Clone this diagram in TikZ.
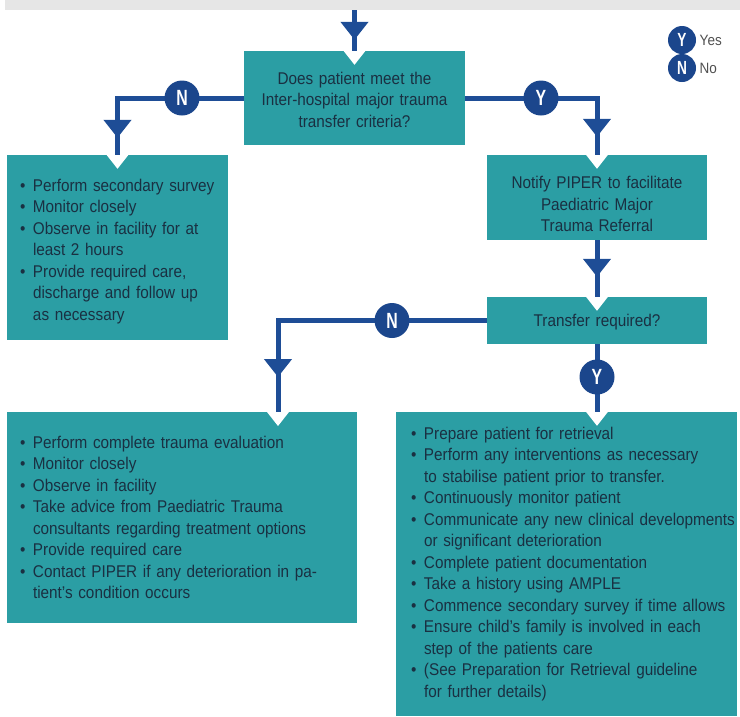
\documentclass[tikz,border=0pt]{standalone}
\usepackage{fontspec}
\setmainfont{Liberation Sans}[FakeStretch=0.9]
\usetikzlibrary{arrows.meta,decorations.markings}
\definecolor{boxteal}{RGB}{43,158,164}
\definecolor{flowblue}{RGB}{30,77,150}
\definecolor{dotblue}{RGB}{27,70,140}
\definecolor{inktext}{RGB}{26,48,66}
\definecolor{keytext}{RGB}{80,80,80}
\definecolor{bandgray}{RGB}{230,230,230}
\newcommand{\itm}[1]{\mbox{\makebox[13pt][l]{\textbullet}#1}}
\newcommand{\ctd}[1]{\mbox{\hspace*{13pt}#1}}

\begin{document}
\begin{tikzpicture}[x=1pt,y=-1pt,
    box/.style={rectangle, fill=boxteal, text=inktext, inner sep=0pt,
                font=\fontsize{17}{21.5}\selectfont},
    flow/.style={color=flowblue, draw, line width=5pt, postaction={decorate},
                 decoration={markings, mark=at position #1 with {\arrow{Triangle[width=27pt,length=18pt]}}}},
    flow/.default=-17pt,
    stem/.style={draw=flowblue, line width=5pt},
    yn/.style={circle, fill=dotblue, minimum size=35pt, inner sep=0pt, text=white,
               font=\fontsize{22}{22}\selectfont\bfseries},
    key/.style={circle, fill=dotblue, minimum size=28pt, inner sep=0pt, text=white,
                font=\fontsize{19}{19}\selectfont\bfseries},
    notch/.pic={\fill[white] (-11,0) -- (11,0) -- (0,14) -- cycle;}]
    \useasboundingbox (0,0) rectangle (740,716);
    \fill[bandgray] (5,0) rectangle (740,10);

    % boxes
    \node[box, minimum width=221pt, minimum height=94pt, text width=221pt, align=center] (q1) at (354.5,98)
        {\rule{0pt}{16pt}Does patient meet the\\Inter-hospital major trauma\\transfer criteria?};
    \node[box, minimum width=221pt, minimum height=185pt, text width=195pt, align=left] (sec) at (117.5,247.5)
        {\itm{\rule{0pt}{20pt}Perform secondary survey}\\
         \itm{Monitor closely}\\
         \itm{Observe in facility for at}\\
         \ctd{least 2 hours}\\
         \itm{Provide required care,}\\
         \ctd{discharge and follow up}\\
         \ctd{as necessary}};
    \node[box, minimum width=220pt, minimum height=85pt, text width=220pt, align=center] (notify) at (597,197.5)
        {\rule{0pt}{26pt}Notify PIPER to facilitate\\Paediatric Major\\Trauma Referral};
    \node[box, minimum width=220pt, minimum height=47pt, text width=220pt, align=center] (transfer) at (597,320.5)
        {\rule{0pt}{15pt}Transfer required?};
    \node[box, minimum width=350pt, minimum height=211pt, text width=324pt, align=left] (care) at (182,517.5)
        {\itm{Perform complete trauma evaluation}\\
         \itm{Monitor closely}\\
         \itm{Observe in facility}\\
         \itm{Take advice from Paediatric Trauma}\\
         \ctd{consultants regarding treatment options}\\
         \itm{Provide required care}\\
         \itm{Contact PIPER if any deterioration in pa-}\\
         \ctd{tient's condition occurs}};
    \node[box, minimum width=341pt, minimum height=304pt, text width=311pt, align=left] (retr) at (566.5,564)
        {\itm{Prepare patient for retrieval}\\
         \itm{Perform any interventions as necessary}\\
         \ctd{to stabilise patient prior to transfer.}\\
         \itm{Continuously monitor patient}\\
         \itm{Communicate any new clinical developments}\\
         \ctd{or significant deterioration}\\
         \itm{Complete patient documentation}\\
         \itm{Take a history using AMPLE}\\
         \itm{Commence secondary survey if time allows}\\
         \itm{Ensure child's family is involved in each}\\
         \ctd{step of the patients care}\\
         \itm{(See Preparation for Retrieval guideline}\\
         \ctd{for further details)}};

    \coordinate (entry) at (354.5,10);
    \coordinate (careIn) at (278,412);
    \coordinate (retrIn) at (transfer.south |- retr.north);

    % notches where the lines come in
    \pic at (q1.north) {notch};
    \pic at (sec.north) {notch};
    \pic at (notify.north) {notch};
    \pic at (transfer.north) {notch};
    \pic at (careIn) {notch};
    \pic at (retrIn) {notch};

    % connectors
    \draw[flow=-11pt] (entry) -- (q1.north);
    \draw[flow] (q1.west) -| (sec.north);
    \draw[flow=-18pt] (q1.east) -| (notify.north);
    \draw[flow=-20pt] (notify.south) -- (transfer.north);
    \draw[flow=-35pt] (transfer.west) -| (careIn);
    \draw[stem] (transfer.south) -- (retrIn);

    % yes / no marks
    \node[yn] (no1) at (182,98) {\scalebox{0.8}[1]{N}};
    \node[yn] (yes1) at (541,98) {\scalebox{0.8}[1]{Y}};
    \node[yn] (no2) at (392,320.5) {\scalebox{0.8}[1]{N}};
    \node[yn] (yes2) at (597,377) {\scalebox{0.8}[1]{Y}};

    % key
    \node[key] (keyY) at (682,40) {\scalebox{0.8}[1]{Y}};
    \node[key] (keyN) at (682,68) {\scalebox{0.8}[1]{N}};
    \node[anchor=west, text=keytext, font=\fontsize{15}{15}\selectfont] (keyYes) at (keyY.east) {Yes};
    \node[anchor=west, text=keytext, font=\fontsize{15}{15}\selectfont] (keyNo) at (keyN.east) {No};
\end{tikzpicture}
\end{document}
